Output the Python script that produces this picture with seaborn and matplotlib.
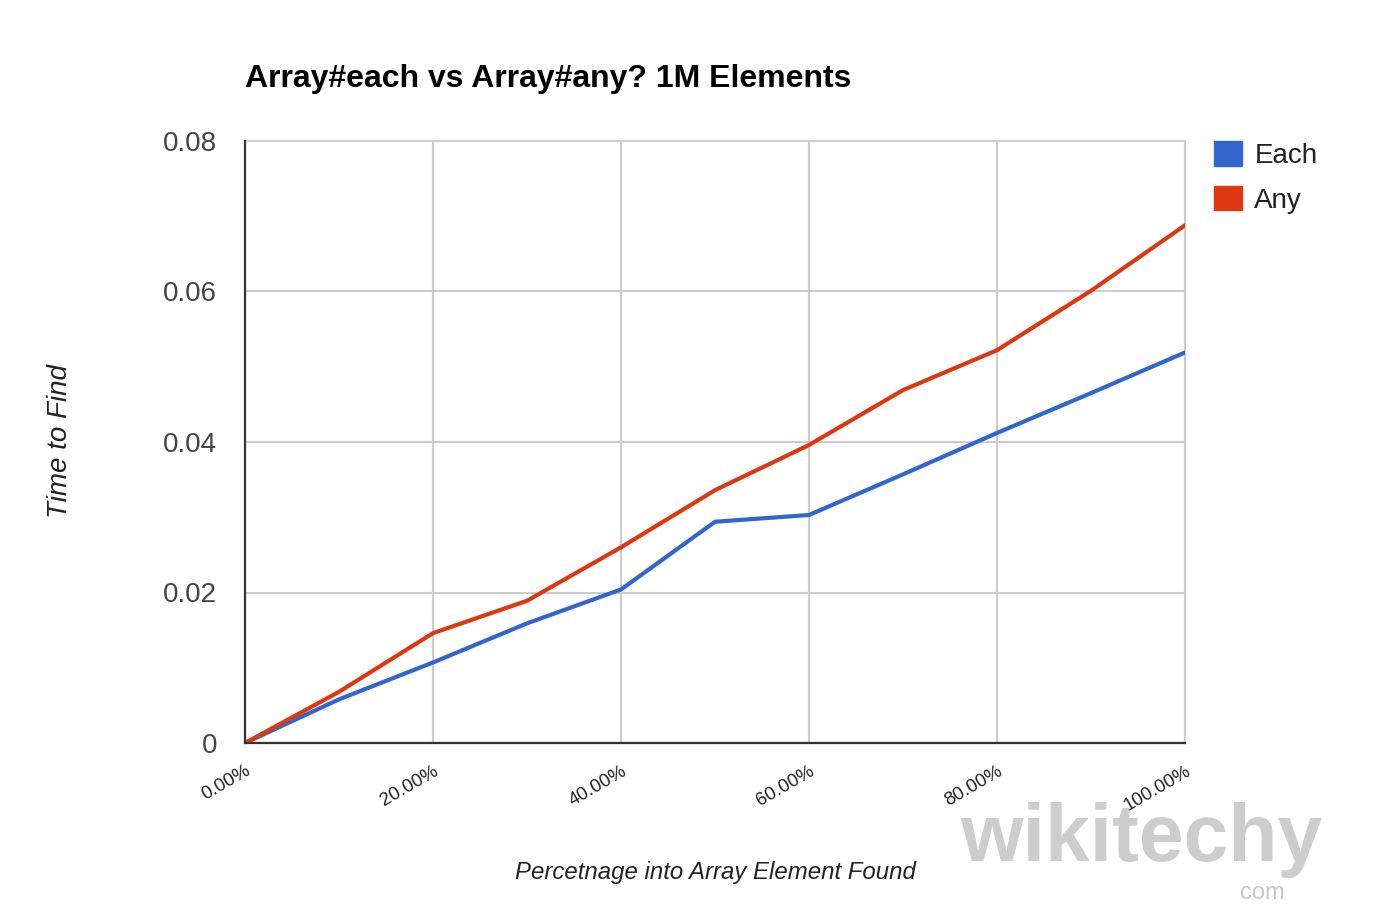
import numpy as np
import pandas as pd
import matplotlib
matplotlib.use("Agg")
import matplotlib.pyplot as plt
from matplotlib.patches import Patch
from matplotlib.ticker import FixedLocator
import seaborn as sns

# ---- data ----
pct = [0, 10, 20, 30, 40, 50, 60, 70, 80, 90, 100]
each = [0.0, 0.0058, 0.0107, 0.0159, 0.0204, 0.0294, 0.0303, 0.0357, 0.0412, 0.0465, 0.0519]
any_ = [0.0, 0.0068, 0.0146, 0.0189, 0.0260, 0.0336, 0.0396, 0.0469, 0.0522, 0.0601, 0.0688]
series_names = ["Each", "Any"]
x_ticks = [0, 20, 40, 60, 80, 100]
x_tick_labels = ["0.00%", "20.00%", "40.00%", "60.00%", "80.00%", "100.00%"]
y_ticks = [0, 0.02, 0.04, 0.06, 0.08]
y_tick_labels = ["0", "0.02", "0.04", "0.06", "0.08"]
colors = ["#3366cc", "#dc3912"]

df = pd.DataFrame({
    "pct": pct * 2,
    "time": each + any_,
    "series": [series_names[0]] * len(pct) + [series_names[1]] * len(pct),
})

sns.set_theme(style="white")
plt.rcParams["font.family"] = ["Liberation Sans", "DejaVu Sans"]

fig = plt.figure(figsize=(13.78, 9.08), dpi=100)
ax = fig.add_axes([245 / 1378, 1 - 743 / 908, (1185 - 245) / 1378, (743 - 141) / 908])

sns.lineplot(data=df, x="pct", y="time", hue="series", palette=colors,
             linewidth=3, ax=ax, legend=False, sort=False)

ax.set_xlim(0, 100)
ax.set_ylim(0, 0.08)
ax.xaxis.set_major_locator(FixedLocator(x_ticks))
ax.yaxis.set_major_locator(FixedLocator(y_ticks))
ax.set_xticklabels(x_tick_labels, rotation=30, ha="right", rotation_mode="anchor",
                   fontsize=13.5, color="#222222")
ax.set_yticklabels(y_tick_labels, fontsize=20, color="#444444")
ax.tick_params(axis="x", length=0, pad=14)
ax.tick_params(axis="y", length=0, pad=20)

ax.grid(True, color="#cccccc", linewidth=1.5)
ax.set_axisbelow(True)
for s in ["top", "right"]:
    ax.spines[s].set_visible(False)
for s in ["left", "bottom"]:
    ax.spines[s].set_color("#333333")
    ax.spines[s].set_linewidth(1.6)
ax.axvline(100, color="#cccccc", linewidth=1.5, zorder=0.5, clip_on=False)
ax.axhline(0.08, color="#cccccc", linewidth=1.5, zorder=0.5, clip_on=False)

ax.set_xlabel("")
ax.set_ylabel("")
fig.text(715 / 1378, 1 - 872 / 908, "Percetnage into Array Element Found", fontsize=17.3,
         style="italic", color="#222222", ha="center", va="center")
fig.text(60 / 1378, 1 - 441 / 908, "Time to Find", fontsize=20, style="italic",
         color="#222222", ha="center", va="center", rotation=90)

fig.text(245 / 1378, 1 - 79 / 908, "Array#each vs Array#any? 1M Elements",
         fontsize=23, fontweight="bold", color="#000000", va="center", ha="left")

handles = [Patch(facecolor=c, edgecolor=c) for c in colors]
fig.legend(handles, series_names, loc="upper left",
           bbox_to_anchor=(1189 / 1378, 1 - 116 / 908), frameon=False,
           fontsize=20, handlelength=1.0, handleheight=1.0, handletextpad=0.45,
           labelspacing=0.6, labelcolor="#222222")

# watermark
fig.text(960 / 1378, 1 - 840 / 908, "wikitechy", fontsize=58, fontweight="bold",
         color="#c8c8c8", va="center", ha="left", alpha=0.9)
fig.text(1240 / 1378, 1 - 893 / 908, "com", fontsize=17, color="#c8c8c8",
         va="center", ha="left")

fig.savefig("out.png", dpi=100, facecolor="white")
